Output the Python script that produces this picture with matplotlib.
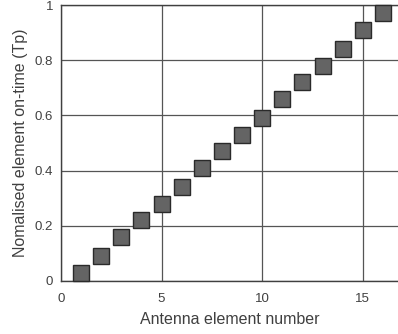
import matplotlib
matplotlib.use("Agg")
import matplotlib.pyplot as plt

# element index vs normalised on-time
elements = list(range(1, 17))
on_time = [0.03, 0.09, 0.16, 0.22, 0.28, 0.34, 0.41, 0.47,
           0.53, 0.59, 0.66, 0.72, 0.78, 0.84, 0.91, 0.97]
x_ticks = [0, 5, 10, 15]
y_ticks = [0, 0.2, 0.4, 0.6, 0.8, 1.0]
y_tick_labels = ["0", "0.2", "0.4", "0.6", "0.8", "1"]

plt.rcParams["font.family"] = ["Liberation Sans", "DejaVu Sans"]

fig = plt.figure(figsize=(3.98, 3.34), dpi=100)
ax = fig.add_axes([0.153, 0.159, 0.847, 0.826])

ax.plot(elements, on_time, linestyle="none", marker="s", markersize=12,
        markerfacecolor="#646464", markeredgecolor="#2a2a2a", markeredgewidth=1.0,
        zorder=3, clip_on=False)

ax.set_xlim(0, 16.75)
ax.set_ylim(0, 1)
ax.set_xticks(x_ticks)
ax.set_yticks(y_ticks)
ax.set_yticklabels(y_tick_labels)
ax.grid(True, color="#555555", linewidth=0.9)
ax.set_axisbelow(True)
ax.tick_params(axis="x", length=0, labelsize=9.5, labelcolor="#404040", pad=9)
ax.tick_params(axis="y", length=0, labelsize=9.5, labelcolor="#404040", pad=5.5)

for side in ["left", "bottom", "top"]:
    ax.spines[side].set_color("#404040")
    ax.spines[side].set_linewidth(1.0)
ax.spines["right"].set_visible(False)

ax.set_xlabel("Antenna element number", fontsize=11.5, color="#404040", labelpad=5)
ax.set_ylabel("Nomalised element on-time (Tp)", fontsize=11.5, color="#404040", labelpad=5)

fig.savefig("out.png", dpi=100)
